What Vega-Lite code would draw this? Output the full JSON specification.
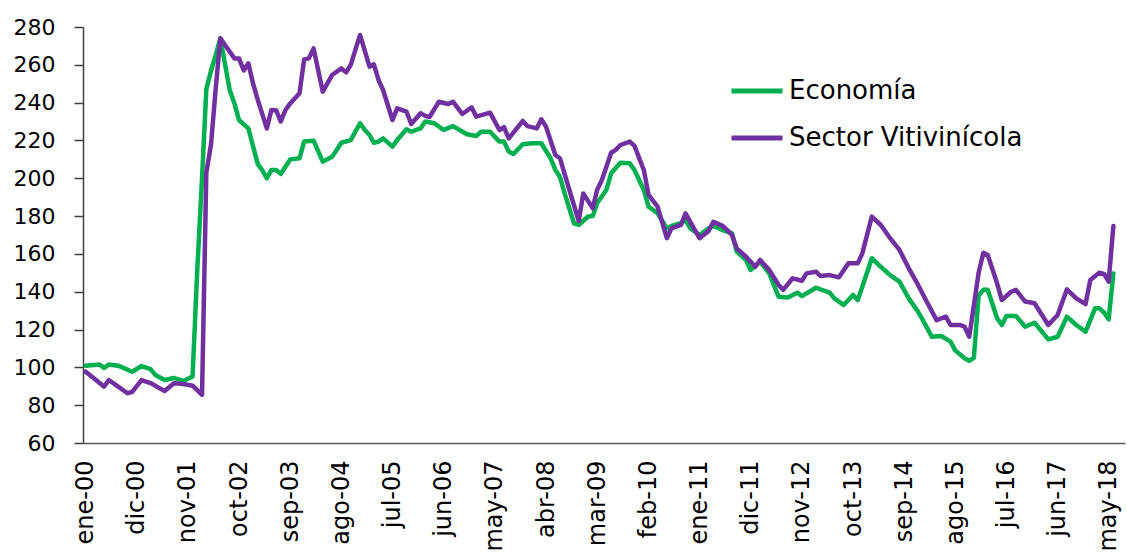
{
  "$schema": "https://vega.github.io/schema/vega-lite/v6.json",
  "width": 1042,
  "height": 416,
  "autosize": {"type": "none"},
  "padding": {"left": 83, "top": 27, "right": 2, "bottom": 115},
  "background": "white",
  "config": {
    "view": {"stroke": null},
    "font": "DejaVu Sans",
    "axis": {"labelFont": "DejaVu Sans", "labelColor": "#000000", "grid": false, "title": null},
    "legend": {"labelFont": "DejaVu Sans"}
  },
  "data": {
    "values": [
      {"d": "2000-01-01", "s": "Economía", "v": 100.8},
      {"d": "2000-04-01", "s": "Economía", "v": 101.5},
      {"d": "2000-05-01", "s": "Economía", "v": 99.7},
      {"d": "2000-06-01", "s": "Economía", "v": 101.5},
      {"d": "2000-08-01", "s": "Economía", "v": 100.9},
      {"d": "2000-11-01", "s": "Economía", "v": 97.7},
      {"d": "2001-01-01", "s": "Economía", "v": 100.7},
      {"d": "2001-03-01", "s": "Economía", "v": 99.1},
      {"d": "2001-04-01", "s": "Economía", "v": 96},
      {"d": "2001-06-01", "s": "Economía", "v": 93.3},
      {"d": "2001-08-01", "s": "Economía", "v": 94.4},
      {"d": "2001-10-01", "s": "Economía", "v": 92.8},
      {"d": "2001-12-01", "s": "Economía", "v": 95.2},
      {"d": "2002-01-01", "s": "Economía", "v": 152},
      {"d": "2002-02-01", "s": "Economía", "v": 200},
      {"d": "2002-03-01", "s": "Economía", "v": 247},
      {"d": "2002-04-01", "s": "Economía", "v": 257},
      {"d": "2002-05-01", "s": "Economía", "v": 265},
      {"d": "2002-06-01", "s": "Economía", "v": 274},
      {"d": "2002-08-01", "s": "Economía", "v": 246.7},
      {"d": "2002-09-01", "s": "Economía", "v": 239.6},
      {"d": "2002-10-01", "s": "Economía", "v": 230.8},
      {"d": "2002-12-01", "s": "Economía", "v": 226.4},
      {"d": "2003-02-01", "s": "Economía", "v": 207.5},
      {"d": "2003-03-01", "s": "Economía", "v": 204.4},
      {"d": "2003-04-01", "s": "Economía", "v": 200},
      {"d": "2003-05-01", "s": "Economía", "v": 204.4},
      {"d": "2003-06-01", "s": "Economía", "v": 204.4},
      {"d": "2003-07-01", "s": "Economía", "v": 202.3},
      {"d": "2003-09-01", "s": "Economía", "v": 210},
      {"d": "2003-11-01", "s": "Economía", "v": 210.6},
      {"d": "2003-12-01", "s": "Economía", "v": 219.4},
      {"d": "2004-02-01", "s": "Economía", "v": 219.9},
      {"d": "2004-04-01", "s": "Economía", "v": 208.8},
      {"d": "2004-06-01", "s": "Economía", "v": 211.4},
      {"d": "2004-07-01", "s": "Economía", "v": 215},
      {"d": "2004-08-01", "s": "Economía", "v": 218.8},
      {"d": "2004-10-01", "s": "Economía", "v": 220.2},
      {"d": "2004-12-01", "s": "Economía", "v": 229.1},
      {"d": "2005-01-01", "s": "Economía", "v": 225.5},
      {"d": "2005-02-01", "s": "Economía", "v": 222.9},
      {"d": "2005-03-01", "s": "Economía", "v": 218.8},
      {"d": "2005-04-01", "s": "Economía", "v": 219.4},
      {"d": "2005-05-01", "s": "Economía", "v": 221.1},
      {"d": "2005-07-01", "s": "Economía", "v": 216.7},
      {"d": "2005-08-01", "s": "Economía", "v": 220.2},
      {"d": "2005-10-01", "s": "Economía", "v": 225.9},
      {"d": "2005-11-01", "s": "Economía", "v": 224.6},
      {"d": "2006-01-01", "s": "Economía", "v": 226.4},
      {"d": "2006-02-01", "s": "Economía", "v": 230},
      {"d": "2006-04-01", "s": "Economía", "v": 229.1},
      {"d": "2006-06-01", "s": "Economía", "v": 225.5},
      {"d": "2006-08-01", "s": "Economía", "v": 227.6},
      {"d": "2006-11-01", "s": "Economía", "v": 223.3},
      {"d": "2007-01-01", "s": "Economía", "v": 222.4},
      {"d": "2007-02-01", "s": "Economía", "v": 224.6},
      {"d": "2007-04-01", "s": "Economía", "v": 224.6},
      {"d": "2007-06-01", "s": "Economía", "v": 219.4},
      {"d": "2007-07-01", "s": "Economía", "v": 219.4},
      {"d": "2007-08-01", "s": "Economía", "v": 214.1},
      {"d": "2007-09-01", "s": "Economía", "v": 212.8},
      {"d": "2007-11-01", "s": "Economía", "v": 218},
      {"d": "2008-01-01", "s": "Economía", "v": 218.5},
      {"d": "2008-03-01", "s": "Economía", "v": 218.5},
      {"d": "2008-05-01", "s": "Economía", "v": 210.6},
      {"d": "2008-06-01", "s": "Economía", "v": 204.4},
      {"d": "2008-07-01", "s": "Economía", "v": 200.8},
      {"d": "2008-08-01", "s": "Economía", "v": 192},
      {"d": "2008-10-01", "s": "Economía", "v": 176.2},
      {"d": "2008-11-01", "s": "Economía", "v": 175.3},
      {"d": "2009-01-01", "s": "Economía", "v": 179.8},
      {"d": "2009-02-01", "s": "Economía", "v": 180},
      {"d": "2009-03-01", "s": "Economía", "v": 186.8},
      {"d": "2009-05-01", "s": "Economía", "v": 193.8},
      {"d": "2009-06-01", "s": "Economía", "v": 202.6},
      {"d": "2009-08-01", "s": "Economía", "v": 208.2},
      {"d": "2009-10-01", "s": "Economía", "v": 207.9},
      {"d": "2009-11-01", "s": "Economía", "v": 204.4},
      {"d": "2010-01-01", "s": "Economía", "v": 193.8},
      {"d": "2010-02-01", "s": "Economía", "v": 185},
      {"d": "2010-04-01", "s": "Economía", "v": 181.5},
      {"d": "2010-06-01", "s": "Economía", "v": 173.5},
      {"d": "2010-07-01", "s": "Economía", "v": 174.8},
      {"d": "2010-09-01", "s": "Economía", "v": 176.2},
      {"d": "2010-10-01", "s": "Economía", "v": 178},
      {"d": "2010-11-01", "s": "Economía", "v": 173.5},
      {"d": "2011-01-01", "s": "Economía", "v": 170},
      {"d": "2011-03-01", "s": "Economía", "v": 173.5},
      {"d": "2011-04-01", "s": "Economía", "v": 174.8},
      {"d": "2011-06-01", "s": "Economía", "v": 172.6},
      {"d": "2011-08-01", "s": "Economía", "v": 170.9},
      {"d": "2011-09-01", "s": "Economía", "v": 161.2},
      {"d": "2011-11-01", "s": "Economía", "v": 156.8},
      {"d": "2011-12-01", "s": "Economía", "v": 151.5},
      {"d": "2012-02-01", "s": "Economía", "v": 155.9},
      {"d": "2012-04-01", "s": "Economía", "v": 149.7},
      {"d": "2012-06-01", "s": "Economía", "v": 137.4},
      {"d": "2012-08-01", "s": "Economía", "v": 137},
      {"d": "2012-10-01", "s": "Economía", "v": 139.5},
      {"d": "2012-11-01", "s": "Economía", "v": 137.7},
      {"d": "2013-02-01", "s": "Economía", "v": 142.1},
      {"d": "2013-05-01", "s": "Economía", "v": 139.5},
      {"d": "2013-06-01", "s": "Economía", "v": 136.5},
      {"d": "2013-08-01", "s": "Economía", "v": 133},
      {"d": "2013-10-01", "s": "Economía", "v": 138.3},
      {"d": "2013-11-01", "s": "Economía", "v": 135.6},
      {"d": "2013-12-01", "s": "Economía", "v": 142.6},
      {"d": "2014-02-01", "s": "Economía", "v": 157.7},
      {"d": "2014-04-01", "s": "Economía", "v": 153.2},
      {"d": "2014-06-01", "s": "Economía", "v": 148.8},
      {"d": "2014-08-01", "s": "Economía", "v": 145.3},
      {"d": "2014-10-01", "s": "Economía", "v": 136.5},
      {"d": "2014-12-01", "s": "Economía", "v": 129.4},
      {"d": "2015-01-01", "s": "Economía", "v": 125},
      {"d": "2015-03-01", "s": "Economía", "v": 116.2},
      {"d": "2015-05-01", "s": "Economía", "v": 116.6},
      {"d": "2015-07-01", "s": "Economía", "v": 113.6},
      {"d": "2015-08-01", "s": "Economía", "v": 109},
      {"d": "2015-10-01", "s": "Economía", "v": 104.8},
      {"d": "2015-11-01", "s": "Economía", "v": 103.5},
      {"d": "2015-12-01", "s": "Economía", "v": 105},
      {"d": "2016-01-01", "s": "Economía", "v": 138},
      {"d": "2016-02-01", "s": "Economía", "v": 141},
      {"d": "2016-03-01", "s": "Economía", "v": 141},
      {"d": "2016-05-01", "s": "Economía", "v": 126},
      {"d": "2016-06-01", "s": "Economía", "v": 122.4},
      {"d": "2016-07-01", "s": "Economía", "v": 127.2},
      {"d": "2016-09-01", "s": "Economía", "v": 127.2},
      {"d": "2016-11-01", "s": "Economía", "v": 121.5},
      {"d": "2017-01-01", "s": "Economía", "v": 123.6},
      {"d": "2017-04-01", "s": "Economía", "v": 114.8},
      {"d": "2017-06-01", "s": "Economía", "v": 116.2},
      {"d": "2017-08-01", "s": "Economía", "v": 126.8},
      {"d": "2017-10-01", "s": "Economía", "v": 122.4},
      {"d": "2017-12-01", "s": "Economía", "v": 118.9},
      {"d": "2018-02-01", "s": "Economía", "v": 131.2},
      {"d": "2018-03-01", "s": "Economía", "v": 131.2},
      {"d": "2018-04-01", "s": "Economía", "v": 129},
      {"d": "2018-05-01", "s": "Economía", "v": 125.4},
      {"d": "2018-06-01", "s": "Economía", "v": 149.7},

      {"d": "2000-01-01", "s": "Sector Vitivinícola", "v": 97.7},
      {"d": "2000-03-01", "s": "Sector Vitivinícola", "v": 93.8},
      {"d": "2000-05-01", "s": "Sector Vitivinícola", "v": 89.8},
      {"d": "2000-06-01", "s": "Sector Vitivinícola", "v": 93.3},
      {"d": "2000-08-01", "s": "Sector Vitivinícola", "v": 89.8},
      {"d": "2000-10-01", "s": "Sector Vitivinícola", "v": 86.3},
      {"d": "2000-11-01", "s": "Sector Vitivinícola", "v": 87},
      {"d": "2001-01-01", "s": "Sector Vitivinícola", "v": 93.3},
      {"d": "2001-03-01", "s": "Sector Vitivinícola", "v": 91.7},
      {"d": "2001-05-01", "s": "Sector Vitivinícola", "v": 88.9},
      {"d": "2001-06-01", "s": "Sector Vitivinícola", "v": 87.5},
      {"d": "2001-08-01", "s": "Sector Vitivinícola", "v": 91.6},
      {"d": "2001-10-01", "s": "Sector Vitivinícola", "v": 91.2},
      {"d": "2001-12-01", "s": "Sector Vitivinícola", "v": 90.3},
      {"d": "2002-02-01", "s": "Sector Vitivinícola", "v": 85.4},
      {"d": "2002-03-01", "s": "Sector Vitivinícola", "v": 203},
      {"d": "2002-04-01", "s": "Sector Vitivinícola", "v": 218},
      {"d": "2002-05-01", "s": "Sector Vitivinícola", "v": 247},
      {"d": "2002-06-01", "s": "Sector Vitivinícola", "v": 274},
      {"d": "2002-07-01", "s": "Sector Vitivinícola", "v": 270.5},
      {"d": "2002-09-01", "s": "Sector Vitivinícola", "v": 263.4},
      {"d": "2002-10-01", "s": "Sector Vitivinícola", "v": 263.4},
      {"d": "2002-11-01", "s": "Sector Vitivinícola", "v": 257},
      {"d": "2002-12-01", "s": "Sector Vitivinícola", "v": 260.8},
      {"d": "2003-01-01", "s": "Sector Vitivinícola", "v": 250},
      {"d": "2003-02-01", "s": "Sector Vitivinícola", "v": 241.4},
      {"d": "2003-04-01", "s": "Sector Vitivinícola", "v": 226.4},
      {"d": "2003-05-01", "s": "Sector Vitivinícola", "v": 236.1},
      {"d": "2003-06-01", "s": "Sector Vitivinícola", "v": 236},
      {"d": "2003-07-01", "s": "Sector Vitivinícola", "v": 230},
      {"d": "2003-08-01", "s": "Sector Vitivinícola", "v": 236.1},
      {"d": "2003-09-01", "s": "Sector Vitivinícola", "v": 239.6},
      {"d": "2003-11-01", "s": "Sector Vitivinícola", "v": 245},
      {"d": "2003-12-01", "s": "Sector Vitivinícola", "v": 262.9},
      {"d": "2004-01-01", "s": "Sector Vitivinícola", "v": 263.4},
      {"d": "2004-02-01", "s": "Sector Vitivinícola", "v": 268.7},
      {"d": "2004-04-01", "s": "Sector Vitivinícola", "v": 245.8},
      {"d": "2004-06-01", "s": "Sector Vitivinícola", "v": 254.6},
      {"d": "2004-08-01", "s": "Sector Vitivinícola", "v": 258.1},
      {"d": "2004-09-01", "s": "Sector Vitivinícola", "v": 256},
      {"d": "2004-10-01", "s": "Sector Vitivinícola", "v": 260},
      {"d": "2004-12-01", "s": "Sector Vitivinícola", "v": 275.8},
      {"d": "2005-02-01", "s": "Sector Vitivinícola", "v": 259},
      {"d": "2005-03-01", "s": "Sector Vitivinícola", "v": 260.3},
      {"d": "2005-04-01", "s": "Sector Vitivinícola", "v": 252},
      {"d": "2005-05-01", "s": "Sector Vitivinícola", "v": 246.7},
      {"d": "2005-07-01", "s": "Sector Vitivinícola", "v": 230.8},
      {"d": "2005-08-01", "s": "Sector Vitivinícola", "v": 237},
      {"d": "2005-10-01", "s": "Sector Vitivinícola", "v": 235.2},
      {"d": "2005-11-01", "s": "Sector Vitivinícola", "v": 228.7},
      {"d": "2006-01-01", "s": "Sector Vitivinícola", "v": 234.4},
      {"d": "2006-02-01", "s": "Sector Vitivinícola", "v": 233},
      {"d": "2006-03-01", "s": "Sector Vitivinícola", "v": 232.4},
      {"d": "2006-05-01", "s": "Sector Vitivinícola", "v": 240.5},
      {"d": "2006-07-01", "s": "Sector Vitivinícola", "v": 239.3},
      {"d": "2006-08-01", "s": "Sector Vitivinícola", "v": 240.5},
      {"d": "2006-10-01", "s": "Sector Vitivinícola", "v": 234},
      {"d": "2006-12-01", "s": "Sector Vitivinícola", "v": 237.5},
      {"d": "2007-01-01", "s": "Sector Vitivinícola", "v": 232.6},
      {"d": "2007-04-01", "s": "Sector Vitivinícola", "v": 234.7},
      {"d": "2007-06-01", "s": "Sector Vitivinícola", "v": 225.5},
      {"d": "2007-07-01", "s": "Sector Vitivinícola", "v": 227},
      {"d": "2007-08-01", "s": "Sector Vitivinícola", "v": 221.1},
      {"d": "2007-11-01", "s": "Sector Vitivinícola", "v": 230.3},
      {"d": "2007-12-01", "s": "Sector Vitivinícola", "v": 227.6},
      {"d": "2008-02-01", "s": "Sector Vitivinícola", "v": 226.4},
      {"d": "2008-03-01", "s": "Sector Vitivinícola", "v": 231.2},
      {"d": "2008-04-01", "s": "Sector Vitivinícola", "v": 227.3},
      {"d": "2008-06-01", "s": "Sector Vitivinícola", "v": 212.3},
      {"d": "2008-07-01", "s": "Sector Vitivinícola", "v": 210.6},
      {"d": "2008-09-01", "s": "Sector Vitivinícola", "v": 193.8},
      {"d": "2008-11-01", "s": "Sector Vitivinícola", "v": 177.4},
      {"d": "2008-12-01", "s": "Sector Vitivinícola", "v": 192},
      {"d": "2009-02-01", "s": "Sector Vitivinícola", "v": 184.1},
      {"d": "2009-03-01", "s": "Sector Vitivinícola", "v": 193.8},
      {"d": "2009-04-01", "s": "Sector Vitivinícola", "v": 199},
      {"d": "2009-05-01", "s": "Sector Vitivinícola", "v": 206},
      {"d": "2009-06-01", "s": "Sector Vitivinícola", "v": 213.5},
      {"d": "2009-07-01", "s": "Sector Vitivinícola", "v": 215},
      {"d": "2009-08-01", "s": "Sector Vitivinícola", "v": 217.6},
      {"d": "2009-10-01", "s": "Sector Vitivinícola", "v": 219.4},
      {"d": "2009-11-01", "s": "Sector Vitivinícola", "v": 217.1},
      {"d": "2010-01-01", "s": "Sector Vitivinícola", "v": 204.4},
      {"d": "2010-02-01", "s": "Sector Vitivinícola", "v": 191.2},
      {"d": "2010-04-01", "s": "Sector Vitivinícola", "v": 185},
      {"d": "2010-06-01", "s": "Sector Vitivinícola", "v": 168.3},
      {"d": "2010-07-01", "s": "Sector Vitivinícola", "v": 173.5},
      {"d": "2010-09-01", "s": "Sector Vitivinícola", "v": 175.3},
      {"d": "2010-10-01", "s": "Sector Vitivinícola", "v": 181.5},
      {"d": "2010-12-01", "s": "Sector Vitivinícola", "v": 172.6},
      {"d": "2011-01-01", "s": "Sector Vitivinícola", "v": 168.3},
      {"d": "2011-03-01", "s": "Sector Vitivinícola", "v": 172.1},
      {"d": "2011-04-01", "s": "Sector Vitivinícola", "v": 177},
      {"d": "2011-06-01", "s": "Sector Vitivinícola", "v": 174.8},
      {"d": "2011-07-01", "s": "Sector Vitivinícola", "v": 172.6},
      {"d": "2011-08-01", "s": "Sector Vitivinícola", "v": 170},
      {"d": "2011-09-01", "s": "Sector Vitivinícola", "v": 162.9},
      {"d": "2011-11-01", "s": "Sector Vitivinícola", "v": 158.5},
      {"d": "2012-01-01", "s": "Sector Vitivinícola", "v": 153.2},
      {"d": "2012-02-01", "s": "Sector Vitivinícola", "v": 156.8},
      {"d": "2012-04-01", "s": "Sector Vitivinícola", "v": 151.5},
      {"d": "2012-06-01", "s": "Sector Vitivinícola", "v": 143.6},
      {"d": "2012-07-01", "s": "Sector Vitivinícola", "v": 141},
      {"d": "2012-09-01", "s": "Sector Vitivinícola", "v": 147.1},
      {"d": "2012-11-01", "s": "Sector Vitivinícola", "v": 145.8},
      {"d": "2012-12-01", "s": "Sector Vitivinícola", "v": 149.7},
      {"d": "2013-02-01", "s": "Sector Vitivinícola", "v": 150.6},
      {"d": "2013-03-01", "s": "Sector Vitivinícola", "v": 148.3},
      {"d": "2013-05-01", "s": "Sector Vitivinícola", "v": 148.8},
      {"d": "2013-07-01", "s": "Sector Vitivinícola", "v": 147.6},
      {"d": "2013-09-01", "s": "Sector Vitivinícola", "v": 155},
      {"d": "2013-11-01", "s": "Sector Vitivinícola", "v": 155},
      {"d": "2013-12-01", "s": "Sector Vitivinícola", "v": 160.3},
      {"d": "2014-02-01", "s": "Sector Vitivinícola", "v": 179.7},
      {"d": "2014-04-01", "s": "Sector Vitivinícola", "v": 175.3},
      {"d": "2014-06-01", "s": "Sector Vitivinícola", "v": 168.3},
      {"d": "2014-08-01", "s": "Sector Vitivinícola", "v": 162.1},
      {"d": "2014-10-01", "s": "Sector Vitivinícola", "v": 152.4},
      {"d": "2014-12-01", "s": "Sector Vitivinícola", "v": 143.6},
      {"d": "2015-02-01", "s": "Sector Vitivinícola", "v": 133.9},
      {"d": "2015-04-01", "s": "Sector Vitivinícola", "v": 125},
      {"d": "2015-06-01", "s": "Sector Vitivinícola", "v": 126.8},
      {"d": "2015-07-01", "s": "Sector Vitivinícola", "v": 122.4},
      {"d": "2015-09-01", "s": "Sector Vitivinícola", "v": 122.4},
      {"d": "2015-10-01", "s": "Sector Vitivinícola", "v": 121.5},
      {"d": "2015-11-01", "s": "Sector Vitivinícola", "v": 116.2},
      {"d": "2016-01-01", "s": "Sector Vitivinícola", "v": 150},
      {"d": "2016-02-01", "s": "Sector Vitivinícola", "v": 160.6},
      {"d": "2016-03-01", "s": "Sector Vitivinícola", "v": 159.4},
      {"d": "2016-05-01", "s": "Sector Vitivinícola", "v": 144.4},
      {"d": "2016-06-01", "s": "Sector Vitivinícola", "v": 135.6},
      {"d": "2016-08-01", "s": "Sector Vitivinícola", "v": 140},
      {"d": "2016-09-01", "s": "Sector Vitivinícola", "v": 141},
      {"d": "2016-11-01", "s": "Sector Vitivinícola", "v": 134.8},
      {"d": "2017-01-01", "s": "Sector Vitivinícola", "v": 133.9},
      {"d": "2017-04-01", "s": "Sector Vitivinícola", "v": 122.4},
      {"d": "2017-06-01", "s": "Sector Vitivinícola", "v": 127.7},
      {"d": "2017-08-01", "s": "Sector Vitivinícola", "v": 141.3},
      {"d": "2017-10-01", "s": "Sector Vitivinícola", "v": 136.5},
      {"d": "2017-12-01", "s": "Sector Vitivinícola", "v": 133.5},
      {"d": "2018-01-01", "s": "Sector Vitivinícola", "v": 146.2},
      {"d": "2018-03-01", "s": "Sector Vitivinícola", "v": 150.1},
      {"d": "2018-04-01", "s": "Sector Vitivinícola", "v": 149.4},
      {"d": "2018-05-01", "s": "Sector Vitivinícola", "v": 145.3},
      {"d": "2018-06-01", "s": "Sector Vitivinícola", "v": 174.8}
    ]
  },
  "mark": {"type": "line", "strokeWidth": 4.5, "strokeJoin": "round", "strokeCap": "round"},
  "encoding": {
    "x": {
      "field": "d",
      "type": "temporal",
      "scale": {
        "type": "utc",
        "domain": [
          {"year": 1999, "month": 12, "date": 15, "utc": true},
          {"year": 2018, "month": 8, "date": 16, "utc": true}
        ]
      },
      "axis": {
        "values": [
          {"year": 2000, "month": 1, "date": 1, "utc": true},
          {"year": 2000, "month": 12, "date": 1, "utc": true},
          {"year": 2001, "month": 11, "date": 1, "utc": true},
          {"year": 2002, "month": 10, "date": 1, "utc": true},
          {"year": 2003, "month": 9, "date": 1, "utc": true},
          {"year": 2004, "month": 8, "date": 1, "utc": true},
          {"year": 2005, "month": 7, "date": 1, "utc": true},
          {"year": 2006, "month": 6, "date": 1, "utc": true},
          {"year": 2007, "month": 5, "date": 1, "utc": true},
          {"year": 2008, "month": 4, "date": 1, "utc": true},
          {"year": 2009, "month": 3, "date": 1, "utc": true},
          {"year": 2010, "month": 2, "date": 1, "utc": true},
          {"year": 2011, "month": 1, "date": 1, "utc": true},
          {"year": 2011, "month": 12, "date": 1, "utc": true},
          {"year": 2012, "month": 11, "date": 1, "utc": true},
          {"year": 2013, "month": 10, "date": 1, "utc": true},
          {"year": 2014, "month": 9, "date": 1, "utc": true},
          {"year": 2015, "month": 8, "date": 1, "utc": true},
          {"year": 2016, "month": 7, "date": 1, "utc": true},
          {"year": 2017, "month": 6, "date": 1, "utc": true},
          {"year": 2018, "month": 5, "date": 1, "utc": true}
        ],
        "labelExpr": "['ene','feb','mar','abr','may','jun','jul','ago','sep','oct','nov','dic'][utcmonth(datum.value)] + '-' + utcFormat(datum.value, '%y')",
        "labelAngle": -90,
        "labelAlign": "right",
        "labelBaseline": "middle",
        "labelPadding": 17,
        "labelFontSize": 24,
        "labelOverlap": false,
        "labelFlush": false,
        "ticks": false,
        "domainColor": "#595959",
        "domainWidth": 1.5
      }
    },
    "y": {
      "field": "v",
      "type": "quantitative",
      "scale": {"domain": [60, 280], "nice": false, "zero": false},
      "axis": {
        "values": [60, 80, 100, 120, 140, 160, 180, 200, 220, 240, 260, 280],
        "labelFontSize": 22,
        "labelPadding": 19,
        "tickSize": 9,
        "tickColor": "#404040",
        "domainColor": "#404040",
        "domainWidth": 1.5,
        "tickWidth": 1.5
      }
    },
    "color": {
      "field": "s",
      "type": "nominal",
      "scale": {"domain": ["Economía", "Sector Vitivinícola"], "range": ["#00B050", "#7030A0"]},
      "legend": {
        "title": null,
        "orient": "none",
        "legendX": 646,
        "legendY": 36,
        "symbolType": "stroke",
        "symbolSize": 2601,
        "symbolStrokeWidth": 5,
        "labelFontSize": 26,
        "labelColor": "#000000",
        "labelLimit": 500,
        "labelOffset": 4,
        "rowPadding": 6
      }
    }
  }
}
